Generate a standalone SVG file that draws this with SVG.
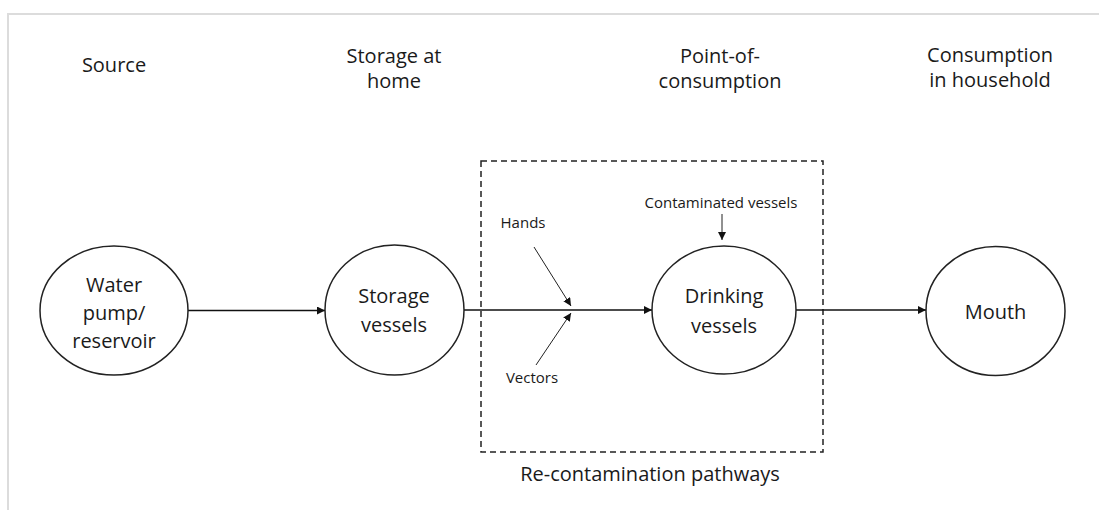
<svg xmlns="http://www.w3.org/2000/svg" width="1099" height="510" viewBox="0 0 1099 510">
<style>
text{font-family:"Open Sans","Liberation Sans",sans-serif;fill:#1a1a1a;text-anchor:middle}
.h{font-size:20px}
.n{font-size:20px}
.s{font-size:15px}
.node{fill:#fff;stroke:#222;stroke-width:1.5}
.main{stroke:#111;stroke-width:1.7;fill:none}
.thin{stroke:#222;stroke-width:1;fill:none}
</style>
<defs>
<marker id="ah" viewBox="0 0 10 10" refX="10" refY="5" markerWidth="9" markerHeight="8" markerUnits="userSpaceOnUse" orient="auto"><path d="M0,0L10,5L0,10z" fill="#111"/></marker>
<marker id="as" viewBox="0 0 10 10" refX="10" refY="5" markerWidth="8" markerHeight="8" markerUnits="userSpaceOnUse" orient="auto"><path d="M0,0L10,5L0,10z" fill="#111"/></marker>
</defs>
<rect width="1099" height="510" fill="#fff"/>
<g id="frame" stroke="#dcdcdc" stroke-width="2" fill="none"><path d="M8,510V14H1099"/></g>
<g id="headers" class="h">
<text class="h" x="114" y="72">Source</text>
<text class="h" x="394" y="63">Storage at</text>
<text class="h" x="394" y="88">home</text>
<text class="h" x="720" y="63">Point-of-</text>
<text class="h" x="720" y="88">consumption</text>
<text class="h" x="990" y="62">Consumption</text>
<text class="h" x="990" y="87">in household</text>
</g>
<g id="recontamination-box">
<rect x="481" y="161" width="342" height="291" fill="none" stroke="#222" stroke-width="1.5" stroke-dasharray="6,4"/>
<text class="h" x="650" y="481">Re-contamination pathways</text>
</g>
<g id="connectors">
<line class="main" x1="188" y1="310.5" x2="325" y2="310.5" marker-end="url(#ah)"/>
<line class="main" x1="464" y1="310" x2="652" y2="310" marker-end="url(#ah)"/>
<line class="main" x1="796" y1="310" x2="926" y2="310" marker-end="url(#ah)"/>
<line class="thin" x1="534" y1="247" x2="571" y2="306" marker-end="url(#as)"/>
<line class="thin" x1="536" y1="365" x2="571" y2="313" marker-end="url(#as)"/>
<line class="thin" x1="722" y1="214" x2="722" y2="240" marker-end="url(#as)"/>
</g>
<g id="node-source">
<ellipse class="node" cx="114" cy="310.5" rx="74" ry="64.5"/>
<text class="n" x="114" y="292">Water</text>
<text class="n" x="114" y="320">pump/</text>
<text class="n" x="114" y="348">reservoir</text>
</g>
<g id="node-storage">
<ellipse class="node" cx="394.5" cy="310" rx="69.5" ry="65"/>
<text class="n" x="394" y="303">Storage</text>
<text class="n" x="394" y="332">vessels</text>
</g>
<g id="node-drinking">
<ellipse class="node" cx="724" cy="310" rx="72" ry="64"/>
<text class="n" x="724" y="303">Drinking</text>
<text class="n" x="724" y="333">vessels</text>
</g>
<g id="node-mouth">
<ellipse class="node" cx="995.5" cy="311" rx="69.5" ry="64.5"/>
<text class="n" x="995.5" y="319">Mouth</text>
</g>
<g id="labels">
<text class="s" x="523" y="228">Hands</text>
<text class="s" x="532" y="383">Vectors</text>
<text class="s" x="721" y="208">Contaminated vessels</text>
</g>
</svg>
